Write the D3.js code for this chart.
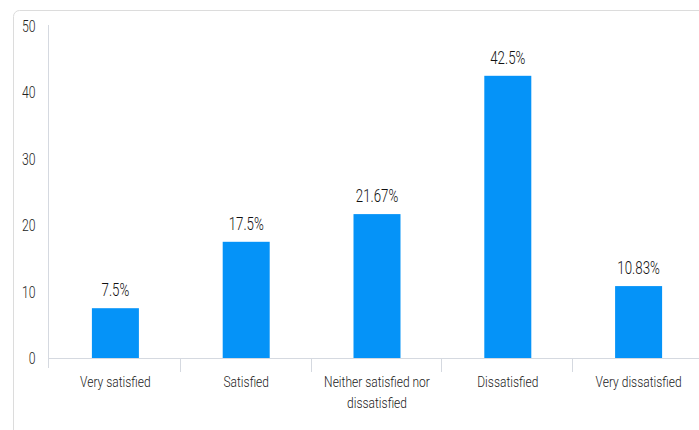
<!DOCTYPE html>
<html><head><meta charset="utf-8">
<script src="https://cdn.jsdelivr.net/npm/d3@7"></script>
<style>body{margin:0;background:#fff}svg{display:block}</style>
</head><body>
<svg id="c" width="699" height="430"></svg>
<script>
const categories = ["Very satisfied", "Satisfied", "Neither satisfied nor dissatisfied", "Dissatisfied", "Very dissatisfied"];
const values = [7.5, 17.5, 21.67, 42.5, 10.83];
const valueLabels = ["7.5%", "17.5%", "21.67%", "42.5%", "10.83%"];
const yTicks = [0, 10, 20, 30, 40, 50];

const svg = d3.select("#c");
const font = "Roboto, 'Liberation Sans', sans-serif";

// narrow text helper: draws text horizontally condensed around an anchor
function ntext(px, py, str, size, sx, anchor, fill) {
  return svg.append("text")
    .attr("transform", `translate(${px},${py}) scale(${sx},1)`)
    .attr("text-anchor", anchor)
    .attr("font-family", font).attr("font-size", size).attr("font-weight", 300)
    .attr("fill", fill)
    .text(str);
}

// card border
svg.append("rect").attr("x", 13.5).attr("y", 10.5).attr("width", 720).attr("height", 460)
  .attr("rx", 6).attr("fill", "none").attr("stroke", "#dcdcdc");

const x = d3.scaleBand().domain(categories).range([49, 703]).paddingInner(0).paddingOuter(0);
const y = d3.scaleLinear().domain([0, 50]).range([358, 26]);

// y axis line
svg.append("line").attr("x1", 48.5).attr("x2", 48.5).attr("y1", 25).attr("y2", 368)
  .attr("stroke", "#d5d9e0");
// x axis line
svg.append("line").attr("x1", 48).attr("x2", 699).attr("y1", y(0) + 0.5).attr("y2", y(0) + 0.5)
  .attr("stroke", "#d5d9e0");
// category separators
categories.slice(1).forEach(c => {
  svg.append("line").attr("x1", Math.round(x(c)) + 0.5).attr("x2", Math.round(x(c)) + 0.5)
    .attr("y1", y(0)).attr("y2", y(0) + 14).attr("stroke", "#d5d9e0");
});

// y tick labels
yTicks.forEach(d => ntext(35.5, y(d) + 6, d, 17, 0.72, "end", "#222"));

const bw = 47;
svg.selectAll(".bar").data(values).enter().append("rect")
  .attr("x", (d, i) => x(categories[i]) + x.bandwidth() / 2 - bw / 2 + 1)
  .attr("width", bw)
  .attr("y", d => y(d)).attr("height", d => y(0) - y(d))
  .attr("fill", "#0593f8");

values.forEach((d, i) => {
  ntext(x(categories[i]) + x.bandwidth() / 2 + 1, y(d) - 12, valueLabels[i], 19, 0.7, "middle", "#111");
});

// category labels, wrapped
const wraps = {"Neither satisfied nor dissatisfied": ["Neither satisfied nor", "dissatisfied"]};
categories.forEach(c => {
  const lines = wraps[c] || [c];
  lines.forEach((l, j) => {
    ntext(x(c) + x.bandwidth() / 2 + 1, 387 + j * 21, l, 15, 0.8, "middle", "#222");
  });
});
</script>
</body></html>
